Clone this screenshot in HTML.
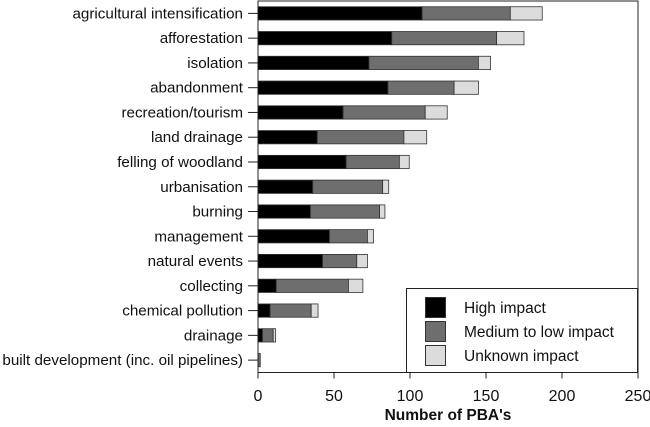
<!DOCTYPE html>
<html><head><meta charset="utf-8"><style>
html,body{margin:0;padding:0;background:#fff;}
svg text{font-family:"Liberation Sans",Arial,sans-serif;fill:#111;}
</style></head><body>
<svg id="chart" width="650" height="422" viewBox="0 0 650 422" xmlns="http://www.w3.org/2000/svg">
<g id="bars"></g>
<g id="axes"></g>
<g>
<rect x="406.5" y="288.5" width="231" height="84" fill="#fff" stroke="#222" stroke-width="1"/>
<rect x="425.5" y="297.5" width="20" height="20" fill="#000" stroke="#333"/>
<text x="464" y="313" font-size="15.5">High impact</text>
<rect x="425.5" y="321.5" width="20" height="20" fill="#6e6e6e" stroke="#333"/>
<text x="464" y="337" font-size="15.5">Medium to low impact</text>
<rect x="425.5" y="345.5" width="20" height="20" fill="#dcdcdc" stroke="#333"/>
<text x="464" y="361" font-size="15.5">Unknown impact</text>
</g>
</svg>
<script>
const categories=["agricultural intensification","afforestation","isolation","abandonment","recreation/tourism","land drainage","felling of woodland","urbanisation","burning","management","natural events","collecting","chemical pollution","drainage","built development (inc. oil pipelines)"];
const highValues=[108,88,73,85.5,56,39,58,36,34.5,47,42.5,12,8,3,0];
const mediumValues=[58,69,72,43.5,54,57,35,46,45.5,25,22.5,47.5,27,7,1.5];
const unknownValues=[21,18,8,16,14.5,15,6.5,4,3.5,4,7,9.5,4.5,1.6,0];
const xTicks=[0,50,100,150,200,250];
const X0=258,X1=638,Y0=1,Y1=372.5,XMAX=250;
const xs=v=>X0+(v/XMAX)*(X1-X0);
const band=(Y1-Y0)/categories.length;
const yc=i=>Y0+(i+0.5)*band;
const NS="http://www.w3.org/2000/svg";
const bars=document.getElementById('bars'),axes=document.getElementById('axes');
function mk(tag,attrs,parent){const e=document.createElementNS(NS,tag);for(const k in attrs)e.setAttribute(k,attrs[k]);parent.appendChild(e);return e;}
const series=[[highValues,'#000','high'],[mediumValues,'#6e6e6e','medium'],[unknownValues,'#dcdcdc','unknown']];
categories.forEach((c,i)=>{
  let acc=0;const h=13.3;
  series.forEach(([arr,col,nm])=>{
    const v=arr[i];
    if(v>0){
      const r=mk('rect',{x:xs(acc),y:yc(i)-h/2,width:xs(acc+v)-xs(acc),height:h,fill:col,stroke:'#333','stroke-width':0.8},bars);
      
      
    }
    acc+=v;
  });
  const t=mk('text',{x:243,y:yc(i)+5,'text-anchor':'end','font-size':15.2},axes);
  t.textContent=c;
  
  
  const tk=mk('line',{x1:248,x2:X0,y1:yc(i),y2:yc(i),stroke:'#222'},axes);
  
  
});
const frame=mk('rect',{x:X0,y:Y0,width:X1-X0,height:Y1-Y0,fill:'none',stroke:'#222','stroke-width':1},axes);


xTicks.forEach(v=>{
  const l=mk('line',{x1:xs(v),x2:xs(v),y1:Y1,y2:Y1+6,stroke:'#222'},axes);
  
  
  const t=mk('text',{x:xs(v),y:401,'text-anchor':'middle','font-size':16},axes);
  t.textContent=v;
  
  
});
const xt=mk('text',{x:448,y:420,'text-anchor':'middle','font-size':15.5,'font-weight':'bold'},axes);
xt.textContent="Number of PBA's";


</script>
</body></html>
